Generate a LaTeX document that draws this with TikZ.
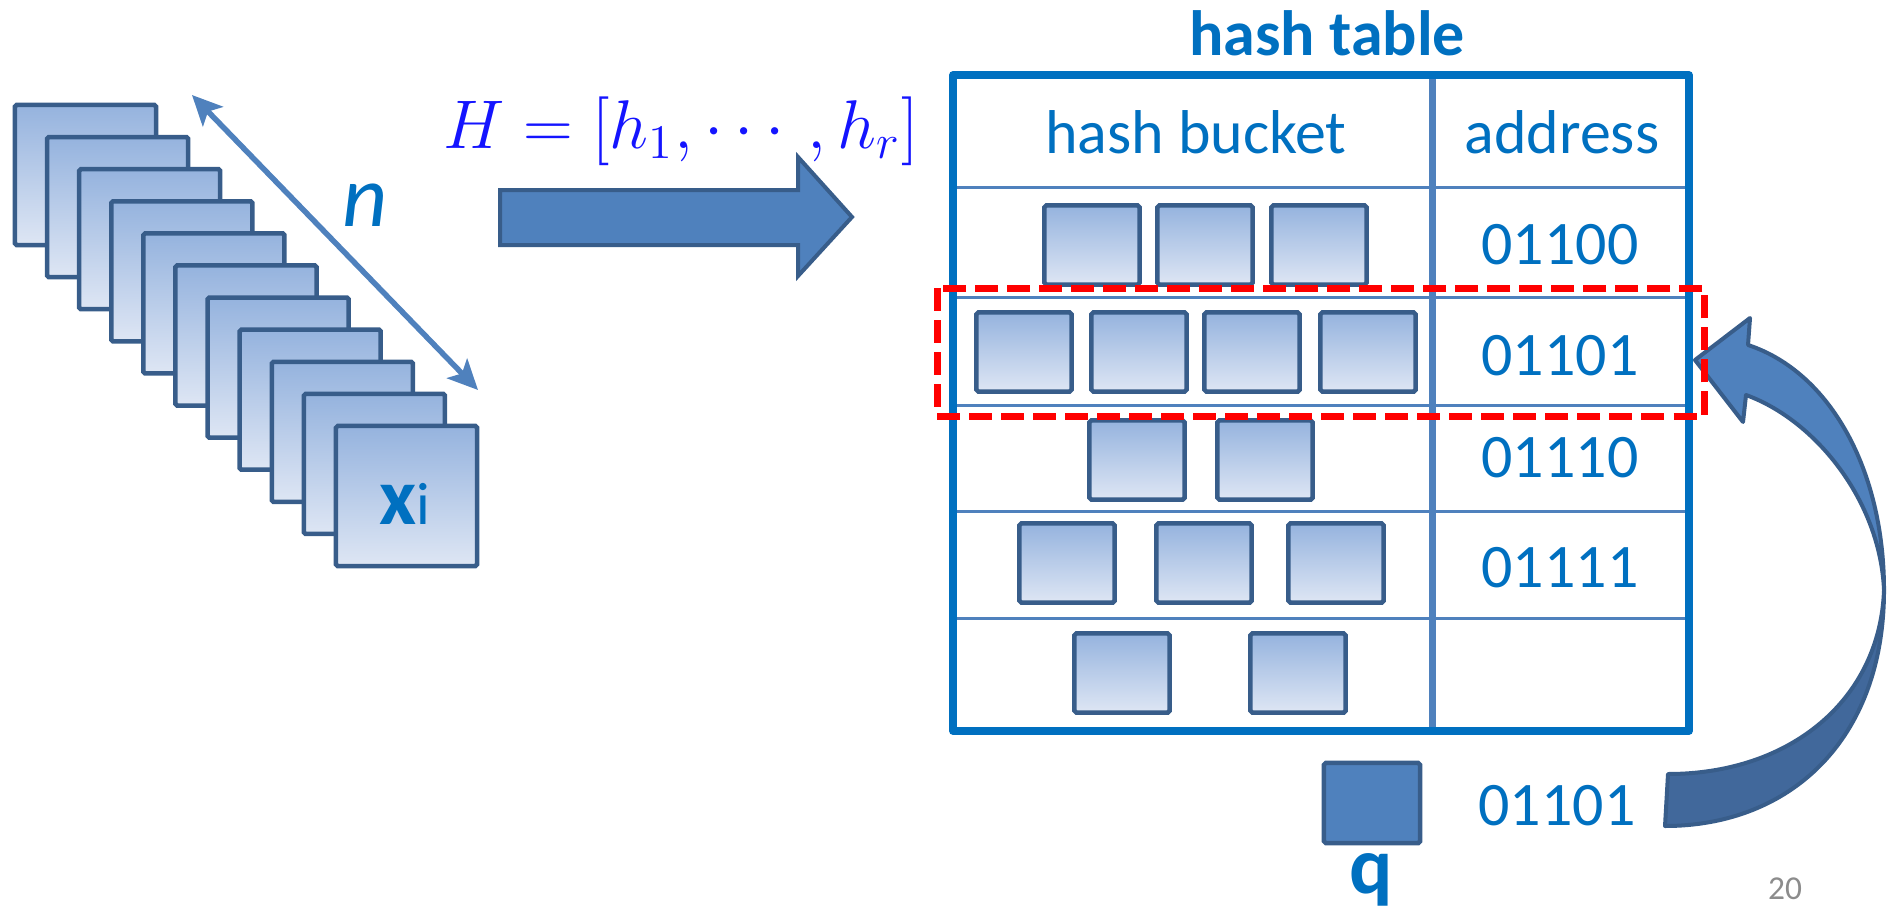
\RequirePackage{fix-cm}
\documentclass[tikz,border=0pt]{standalone}
\usepackage{amsmath}
\usepackage[no-math]{fontspec}
\setmainfont{Carlito}
\usepackage[dvipsnames]{xcolor}
\usepackage{tikz}
\usetikzlibrary{arrows.meta}

\definecolor{tblblue}{RGB}{0,112,192}
\definecolor{lineblue}{RGB}{79,129,189}
\definecolor{edgeblue}{RGB}{56,93,138}
\definecolor{darkfill}{RGB}{65,104,155}
\definecolor{boxtop}{RGB}{149,179,222}
\definecolor{boxbot}{RGB}{222,230,244}
\definecolor{mathblue}{RGB}{20,20,255}
\definecolor{pagegray}{RGB}{140,140,140}

\newcommand{\fsz}[1]{\fontsize{#1}{#1}\selectfont}

\begin{document}
\begin{tikzpicture}[x=0.01cm, y=-0.01cm,
  vecbox/.style={draw=edgeblue, line width=0.045cm, top color=boxtop, bottom color=boxbot, rounded corners=0.5pt, inner sep=0pt, minimum width=1.41cm, minimum height=1.40cm},
  bucketbox/.style={vecbox, minimum width=0.95cm, minimum height=0.79cm},
  querybox/.style={draw=edgeblue, line width=0.045cm, fill=lineblue, rounded corners=0.5pt, inner sep=0pt, minimum width=0.96cm, minimum height=0.80cm},
  bluetext/.style={text=tblblue, inner sep=0pt, font=\fsz{17.6}},
  sizearrow/.style={{Stealth[length=0.3cm,width=0.28cm,inset=0.07cm]}-{Stealth[length=0.3cm,width=0.28cm,inset=0.07cm]}, draw=lineblue, line width=0.055cm},
  blockarrow/.style={draw=edgeblue, fill=lineblue, line width=0.04cm, line join=miter},
  ribbon/.style={draw=edgeblue, line width=0.04cm, line join=round},
  rowline/.style={lineblue, line width=0.03cm},
  coldivider/.style={lineblue, line width=0.07cm},
  tableframe/.style={tblblue, line width=0.075cm, line join=round},
  hitbox/.style={red, line width=0.07cm, dash pattern=on 0.23cm off 0.09cm}]
\useasboundingbox (0,0) rectangle (1894,912);

\foreach \k in {0,...,10}
\node[vecbox] (x\k) at (85.5+32.1*\k, 175+32.1*\k) {};
\node[bluetext, anchor=base] (xilabel) at ([shift={(-2,28)}]x10.center) {{\bfseries\fsz{23}x}{\fsz{17}i}};
\coordinate (ntop) at (192,95);
\coordinate (nbot) at (478,390);
\draw[sizearrow] (ntop) -- (nbot);
\node[bluetext, font=\itshape\fsz{25}] (nlabel) at (365,205) {n};

\node[anchor=base, text=mathblue, inner sep=0pt] (hashfn) at (681,148) {\fsz{19.6}$H=[h_1,\cdots,h_r]$};
\draw[blockarrow] (500,190) -- (798,190) -- (798,157) -- (852,217) -- (798,276) -- (798,245) -- (500,245) -- cycle;

\node[bluetext, font=\bfseries\fsz{18.2}, anchor=base] (title) at (1327,55) {hash table};
\foreach \ry in {187,297,405,511,618}
\draw[rowline] (953,\ry) -- (1689,\ry);
\draw[coldivider] (1432,75) -- (1432,731);
\draw[tableframe] (953,75) rectangle (1689,731);
\node[bluetext] (bucketcol) at (1196,132) {hash bucket};
\node[bluetext] (addrcol) at (1562,132) {address};
\foreach \code/\cy [count=\i] in {01100/245,01101/356,01110/458,01111/568}
\node[bluetext] (addr\i) at (1560,\cy) {\code};
\foreach \bx/\by [count=\j] in {1092/245,1205/245,1319/245,1024/352,1139/352,1252/352,1368/352,1137/460,1265/460,1067/563,1204/563,1336/563,1122/673,1298/673}
\node[bucketbox] (b\j) at (\bx,\by) {};

\filldraw[ribbon, fill=darkfill] (1884,590) .. controls (1880,700) and (1790,774) .. (1668,774) -- (1665,826) .. controls (1790,826) and (1884,740) .. (1884,590) -- cycle;
\filldraw[ribbon, fill=lineblue] (1748,345) -- (1750,318) -- (1695,360) -- (1743,422) -- (1746,395) .. controls (1815,420) and (1880,500) .. (1884,590) .. controls (1884,470) and (1830,372) .. (1748,345) -- cycle;
\draw[hitbox] (937,288) rectangle (1704,416);

\node[querybox] (q) at (1372,803) {};
\node[bluetext, font=\bfseries\fsz{23}, anchor=base] (qlabel) at (1371,893) {q};
\node[bluetext] (qcode) at (1557,806) {01101};
\node[text=pagegray, font=\fsz{9.5}, inner sep=0pt] (pagenum) at (1785,889) {20};
\end{tikzpicture}
\end{document}
